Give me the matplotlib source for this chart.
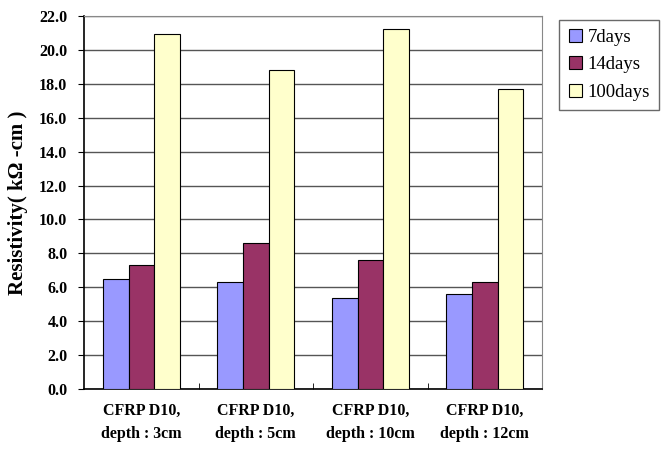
import numpy as np
import matplotlib.pyplot as plt

categories = ["CFRP D10,\ndepth : 3cm", "CFRP D10,\ndepth : 5cm",
              "CFRP D10,\ndepth : 10cm", "CFRP D10,\ndepth : 12cm"]
series_names = ["7days", "14days", "100days"]
days_7 = [6.5, 6.3, 5.4, 5.6]
days_14 = [7.3, 8.6, 7.6, 6.3]
days_100 = [20.9, 18.8, 21.2, 17.7]
colors = ["#9999FF", "#993366", "#FFFFCC"]

plt.rcParams['font.family'] = ['Liberation Serif', 'DejaVu Serif']

fig = plt.figure(figsize=(6.62, 4.51), dpi=100)
ax = fig.add_axes([0.127, 0.137, 0.692, 0.828])

x = np.arange(len(categories))
w = 0.224
for i, (vals, name) in enumerate(zip([days_7, days_14, days_100], series_names)):
    ax.bar(x + (i - 1) * w, vals, w, color=colors[i], edgecolor='black',
           linewidth=0.8, label=name, zorder=3)

ax.set_xlim(-0.5, len(categories) - 0.5)
ax.set_ylim(0, 22)
ax.set_yticks(np.arange(0, 22.1, 2))
ax.set_yticklabels([f"{v:.1f}" for v in np.arange(0, 22.1, 2)], fontweight='bold', fontsize=11.5)
ax.set_xticks(x)
ax.set_xticklabels(categories, fontweight='bold', fontsize=11.5, linespacing=1.6)
ax.tick_params(axis='x', length=0, pad=10)
ax.set_xticks(np.arange(0.5, len(categories) - 0.5, 1), minor=True)
ax.tick_params(axis='x', which='minor', direction='in', length=4)
ax.tick_params(axis='y', direction='out', length=4, pad=8)
ax.yaxis.grid(True, color='#555555', linewidth=1.0, zorder=0)
ax.set_axisbelow(True)
for s in ['top', 'right']:
    ax.spines[s].set_color('#888888')
for s in ['left', 'bottom']:
    ax.spines[s].set_color('black')
    ax.spines[s].set_linewidth(1.2)

ax.set_ylabel("Resistivity( kΩ -cm )", fontweight='bold', fontsize=15, labelpad=8)

leg = ax.legend(loc='upper left', bbox_to_anchor=(1.025, 1.005), frameon=True,
                fancybox=False, edgecolor='#444444', fontsize=13.5,
                handlelength=0.7, handleheight=0.7, handletextpad=0.3,
                labelspacing=0.55, borderpad=0.5, borderaxespad=0.3)

fig.savefig("out.png", dpi=100)
